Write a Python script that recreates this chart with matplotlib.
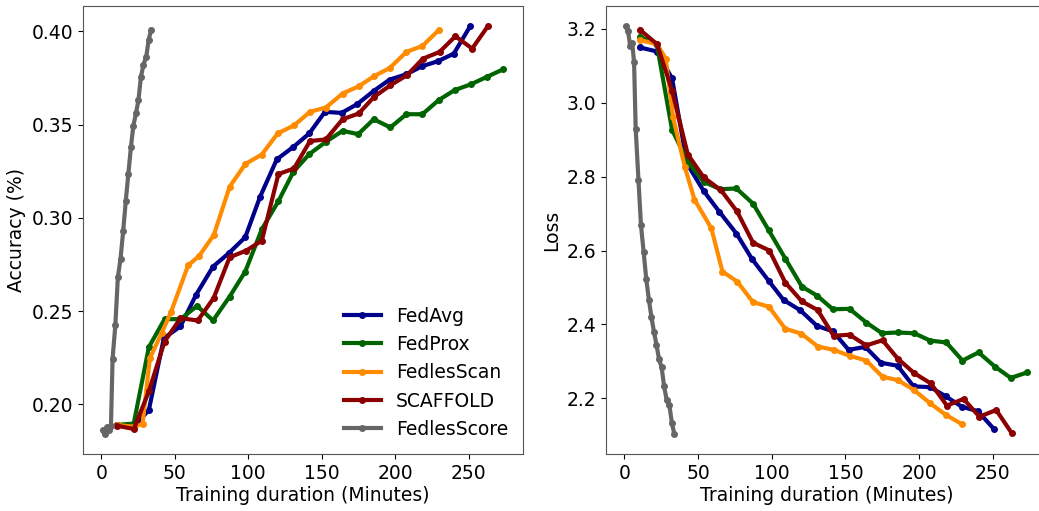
import numpy as np
import matplotlib
matplotlib.use('Agg')
import matplotlib.pyplot as plt

# training duration (minutes) per round
x_fedavg = [10.4, 22.1, 32.3, 42.5, 53.8, 64.4, 76.0, 86.6, 97.9, 108.0, 119.4, 130.7,
            141.5, 152.2, 163.5, 174.1, 185.4, 196.3, 207.6, 218.2, 229.0, 239.9, 251.0]
x_fedprox = [10.4, 22.0, 32.3, 43.0, 53.8, 65.1, 76.0, 87.3, 97.9, 109.2, 120.5, 130.7,
             141.5, 152.8, 164.2, 174.8, 185.4, 196.7, 207.6, 218.5, 229.5, 240.4, 251.7,
             262.3, 273.6]
x_fedlesscan = [10.5, 22.0, 28.0, 33.0, 41.0, 47.5, 59.0, 66.5, 76.5, 87.3, 98.0, 109.2,
                120.0, 131.3, 142.0, 152.8, 164.2, 175.2, 185.6, 196.3, 207.6, 218.5, 229.5]
x_scaffold = [10.4, 22.1, 32.3, 43.0, 53.8, 65.6, 76.4, 87.3, 98.4, 109.2, 120.5, 131.1,
              142.0, 152.8, 164.2, 175.2, 185.6, 196.7, 208.0, 218.9, 230.2, 241.0, 252.4,
              263.0]
x_fedlesscore = [0.9, 2.4, 3.9, 5.3, 6.5, 7.6, 9.5, 11.2, 13.0, 14.8, 16.6, 18.3, 20.1,
                 21.7, 23.5, 25.2, 26.9, 28.6, 30.5, 32.2, 33.8]

# accuracy
acc_fedavg = [0.189, 0.188, 0.197, 0.2355, 0.2418, 0.2587, 0.2739, 0.281, 0.2896, 0.3113,
              0.3314, 0.3381, 0.3453, 0.3569, 0.3563, 0.361, 0.3681, 0.3742, 0.377, 0.3813,
              0.384, 0.3881, 0.4027]
acc_fedprox = [0.189, 0.1897, 0.2307, 0.2457, 0.2457, 0.2528, 0.245, 0.2578, 0.2712, 0.2939,
               0.309, 0.3247, 0.3342, 0.3408, 0.3467, 0.3449, 0.3529, 0.3485, 0.3556, 0.3556,
               0.3631, 0.3685, 0.3717, 0.3756, 0.3797]
acc_fedlesscan = [0.189, 0.188, 0.1895, 0.2248, 0.2382, 0.2498, 0.2745, 0.2796, 0.2908,
                  0.3167, 0.3289, 0.334, 0.3453, 0.3497, 0.3569, 0.3592, 0.3667, 0.3706,
                  0.376, 0.3804, 0.389, 0.3922, 0.4006]
acc_scaffold = [0.1886, 0.1868, 0.207, 0.2337, 0.2462, 0.245, 0.257, 0.2789, 0.2824, 0.2878,
                0.3235, 0.3265, 0.3412, 0.3421, 0.3529, 0.356, 0.3649, 0.3711, 0.3765,
                0.3854, 0.389, 0.3974, 0.3908, 0.4027]
acc_fedlesscore = [0.186, 0.1843, 0.188, 0.1864, 0.1886, 0.2245, 0.2427, 0.2682, 0.278,
                   0.2928, 0.3092, 0.3233, 0.3381, 0.3492, 0.356, 0.3631, 0.3756, 0.3822,
                   0.3863, 0.3956, 0.4007]

# loss
loss_fedavg = [3.150, 3.139, 3.066, 2.835, 2.761, 2.705, 2.646, 2.577, 2.518, 2.466, 2.438,
               2.396, 2.381, 2.331, 2.339, 2.296, 2.288, 2.232, 2.230, 2.205, 2.177, 2.165,
               2.116]
loss_fedprox = [3.179, 3.157, 2.927, 2.840, 2.786, 2.766, 2.768, 2.727, 2.655, 2.578, 2.502,
                2.478, 2.441, 2.442, 2.405, 2.376, 2.378, 2.376, 2.356, 2.351, 2.302, 2.324,
                2.285, 2.255, 2.270]
loss_fedlesscan = [3.170, 3.159, 3.120, 2.961, 2.826, 2.738, 2.660, 2.543, 2.516, 2.460,
                   2.448, 2.388, 2.375, 2.340, 2.331, 2.315, 2.302, 2.258, 2.249, 2.223,
                   2.186, 2.154, 2.129]
loss_scaffold = [3.198, 3.159, 3.033, 2.860, 2.798, 2.763, 2.706, 2.621, 2.600, 2.513, 2.462,
                 2.439, 2.369, 2.372, 2.343, 2.357, 2.307, 2.268, 2.240, 2.180, 2.198, 2.150,
                 2.168, 2.105]
loss_fedlesscore = [3.207, 3.195, 3.153, 3.161, 3.110, 2.930, 2.790, 2.668, 2.596, 2.522,
                    2.466, 2.419, 2.378, 2.345, 2.305, 2.284, 2.232, 2.196, 2.181, 2.132,
                    2.104]

names = ['FedAvg', 'FedProx', 'FedlesScan', 'SCAFFOLD', 'FedlesScore']
colors = ['darkblue', 'darkgreen', 'darkorange', 'darkred', '#666666']
xs = [x_fedavg, x_fedprox, x_fedlesscan, x_scaffold, x_fedlesscore]
accs = [acc_fedavg, acc_fedprox, acc_fedlesscan, acc_scaffold, acc_fedlesscore]
losses = [loss_fedavg, loss_fedprox, loss_fedlesscan, loss_scaffold, loss_fedlesscore]

plt.rcParams['font.size'] = 13.5

fig = plt.figure(figsize=(10.39, 5.11), dpi=100)
ax1 = fig.add_axes([0.0796, 0.1115, 0.4241, 0.8767])
ax2 = fig.add_axes([0.5830, 0.1115, 0.4252, 0.8767])

for x, a, l, name, c in zip(xs, accs, losses, names, colors):
    ax1.plot(x, a, '-o', color=c, lw=3, ms=4, label=name)
    ax2.plot(x, l, '-o', color=c, lw=3, ms=4, label=name)

ax1.set_xlabel('Training duration (Minutes)', labelpad=2)
ax1.set_ylabel('Accuracy (%)')
ax1.set_xticks([0, 50, 100, 150, 200, 250])
ax1.set_yticks([0.20, 0.25, 0.30, 0.35, 0.40])
ax1.legend(loc='lower right', frameon=False, borderaxespad=0.4)

ax2.set_xlabel('Training duration (Minutes)', labelpad=2)
ax2.set_ylabel('Loss')
ax2.set_xticks([0, 50, 100, 150, 200, 250])
ax2.set_yticks([2.2, 2.4, 2.6, 2.8, 3.0, 3.2])

for ax in (ax1, ax2):
    for s in ax.spines.values():
        s.set_color('#555555')

fig.savefig('out.png', dpi=100)
